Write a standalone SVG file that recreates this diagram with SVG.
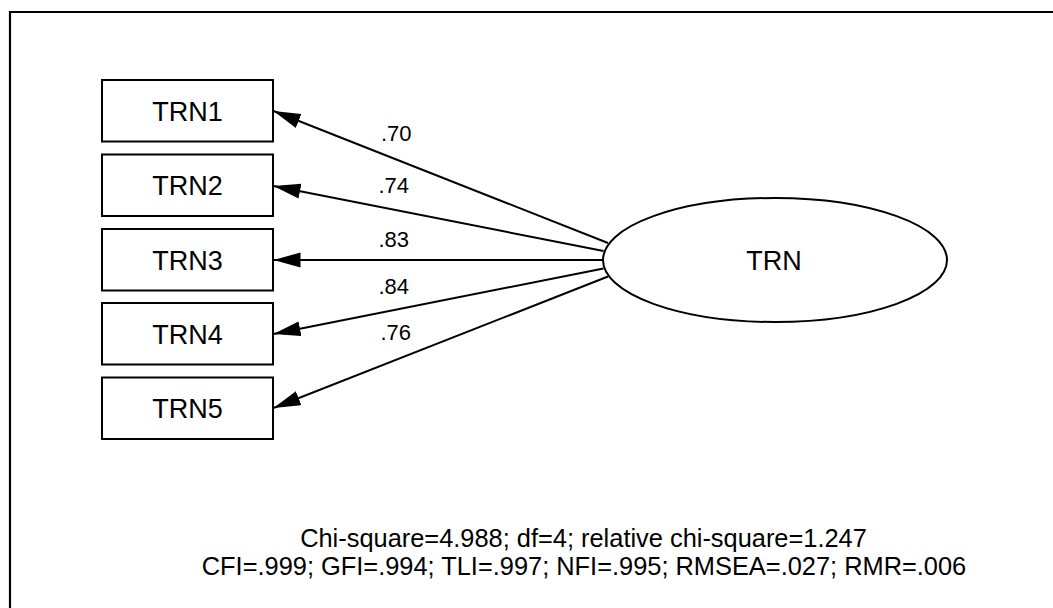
<svg xmlns="http://www.w3.org/2000/svg" width="1053" height="608" viewBox="0 0 1053 608">
<style>
  .box{fill:#fff;stroke:#000;stroke-width:2}
  .lbl{font-family:"Liberation Sans",Arial,sans-serif;fill:#000}
  .node{font-size:27px;text-anchor:middle}
  .coef{font-size:22px}
  .fit{font-size:25.4px;text-anchor:middle}
  .edge{stroke:#000;stroke-width:2;fill:none;marker-end:url(#ah)}
</style>
<defs>
  <marker id="ah" markerUnits="userSpaceOnUse" markerWidth="28" markerHeight="16" refX="27" refY="7.5" orient="auto">
    <path d="M0,0 L27,7.5 L0,15 Z" fill="#000"/>
  </marker>
</defs>
<rect x="0" y="0" width="1053" height="608" fill="#fff"/>
<path d="M10,620 L10,12 L1060,12" fill="none" stroke="#000" stroke-width="2.2"/>
<g id="connectors">
  <line class="edge" x1="608" y1="243" x2="273.5" y2="111"/>
  <line class="edge" x1="603.5" y1="251" x2="273.5" y2="186"/>
  <line class="edge" x1="603" y1="260" x2="273.5" y2="260"/>
  <line class="edge" x1="603.5" y1="268.5" x2="273.5" y2="334"/>
  <line class="edge" x1="608" y1="276.5" x2="273.5" y2="408"/>
  <text class="lbl coef" x="381" y="140.5">.70</text>
  <text class="lbl coef" x="378.5" y="193">.74</text>
  <text class="lbl coef" x="378.5" y="246.5">.83</text>
  <text class="lbl coef" x="378.5" y="294">.84</text>
  <text class="lbl coef" x="380.5" y="340">.76</text>
</g>
<g id="TRN1">
  <rect class="box" x="102" y="80" width="171" height="61.5"/>
  <text class="lbl node" x="187.5" y="120.5">TRN1</text>
</g>
<g id="TRN2">
  <rect class="box" x="102" y="154.5" width="171" height="61.5"/>
  <text class="lbl node" x="187.5" y="195">TRN2</text>
</g>
<g id="TRN3">
  <rect class="box" x="102" y="229" width="171" height="61.5"/>
  <text class="lbl node" x="187.5" y="269.5">TRN3</text>
</g>
<g id="TRN4">
  <rect class="box" x="102" y="303" width="171" height="61.5"/>
  <text class="lbl node" x="187.5" y="343.5">TRN4</text>
</g>
<g id="TRN5">
  <rect class="box" x="102" y="377.5" width="171" height="61.5"/>
  <text class="lbl node" x="187.5" y="418">TRN5</text>
</g>
<g id="TRN">
  <ellipse class="box" cx="775" cy="260" rx="172" ry="62"/>
  <text class="lbl node" x="774" y="269.5">TRN</text>
</g>
<g id="fit">
  <text class="lbl fit" x="583.5" y="547">Chi-square=4.988; df=4; relative chi-square=1.247</text>
  <text class="lbl fit" x="584" y="575">CFI=.999; GFI=.994; TLI=.997; NFI=.995; RMSEA=.027; RMR=.006</text>
</g>
</svg>
